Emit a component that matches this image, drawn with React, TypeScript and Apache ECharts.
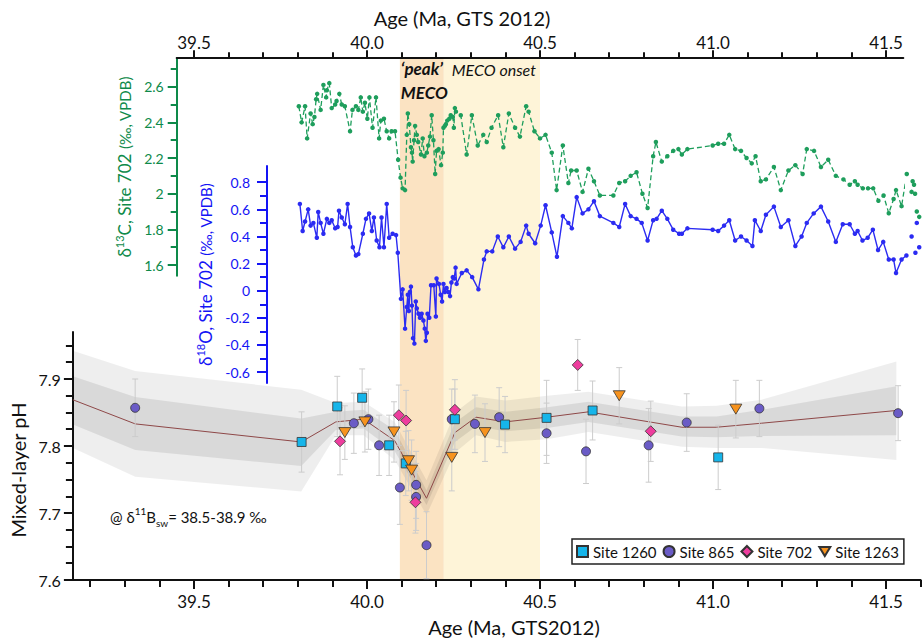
import React, { useEffect, useRef } from "react";
import * as echarts from "echarts";

const FONT = "Lato, 'Noto Sans', 'DejaVu Sans', sans-serif";

// ---------- δ13C, Site 702 ----------
const d13cAge = [39.803,39.811,39.821,39.827,39.837,39.843,39.848,39.853,39.856,39.866,39.874,39.882,39.884,39.891,39.898,39.908,39.912,39.92,39.927,39.936,39.951,39.958,39.968,39.975,39.982,39.988,39.994,40.001,40.007,40.016,40.026,40.035,40.04,40.049,40.057,40.064,40.071,40.081,40.09,40.097,40.103,40.11,40.115,40.118,40.122,40.127,40.13,40.132,40.136,40.139,40.144,40.148,40.156,40.161,40.166,40.173,40.177,40.182,40.187,40.192,40.197,40.201,40.207,40.214,40.219,40.221,40.225,40.228,40.232,40.238,40.242,40.248,40.251,40.254,40.257,40.271,40.288,40.303,40.32,40.336,40.346,40.36,40.379,40.394,40.41,40.428,40.442,40.46,40.467,40.484,40.5,40.516,40.534,40.548,40.566,40.582,40.59,40.606,40.623,40.64,40.656,40.673,40.712,40.729,40.746,40.762,40.779,40.796,40.811,40.827,40.835,40.852,40.868,40.885,40.9,40.91,40.926,40.999,41.015,41.032,41.047,41.064,41.081,41.097,41.112,41.123,41.138,41.153,41.176,41.196,41.218,41.238,41.259,41.271,41.292,41.312,41.333,41.355,41.377,41.395,41.41,41.418,41.433,41.448,41.463,41.478,41.493,41.508,41.522,41.529,41.545,41.56,41.574,41.577,41.581,41.584,41.589,41.596];
const d13cVal = [2.49,2.40,2.49,2.31,2.45,2.39,2.43,2.53,2.56,2.47,2.61,2.54,2.58,2.62,2.48,2.50,2.52,2.56,2.50,2.49,2.35,2.47,2.49,2.47,2.54,2.46,2.51,2.42,2.54,2.37,2.54,2.31,2.41,2.42,2.35,2.31,2.35,2.35,2.19,2.09,2.03,2.02,2.33,2.45,2.39,2.26,2.23,2.18,2.30,2.38,2.33,2.29,2.22,2.31,2.21,2.23,2.27,2.32,2.44,2.30,2.11,2.24,2.25,2.16,2.23,2.37,2.38,2.39,2.41,2.42,2.44,2.43,2.37,2.48,2.46,2.44,2.22,2.44,2.27,2.33,2.29,2.37,2.44,2.26,2.45,2.37,2.32,2.49,2.46,2.35,2.31,2.33,2.23,2.02,2.27,2.06,2.13,2.13,2.01,2.14,2.07,1.99,1.99,2.06,2.07,2.10,2.12,2.00,1.92,2.21,2.29,2.18,2.21,2.24,2.25,2.22,2.25,2.27,2.28,2.28,2.33,2.25,2.24,2.20,2.17,2.21,2.07,2.08,2.15,2.02,2.13,2.16,2.11,2.25,2.24,2.15,2.19,2.10,2.08,2.05,2.07,2.05,2.03,2.03,2.03,1.96,1.99,1.89,1.97,2.02,1.93,2.11,2.01,2.07,2.05,2.00,1.90,1.87];

// ---------- δ18O, Site 702 ----------
const d18oAge = [39.806,39.814,39.821,39.83,39.837,39.845,39.855,39.859,39.866,39.874,39.884,39.891,39.898,39.908,39.915,39.919,39.927,39.936,39.944,39.951,39.959,39.968,39.975,39.988,39.997,40.006,40.014,40.02,40.028,40.036,40.042,40.049,40.057,40.064,40.074,40.084,40.089,40.098,40.103,40.11,40.115,40.118,40.121,40.124,40.127,40.13,40.133,40.137,40.141,40.144,40.149,40.153,40.158,40.163,40.167,40.17,40.173,40.175,40.18,40.185,40.193,40.199,40.201,40.208,40.213,40.217,40.221,40.225,40.23,40.235,40.24,40.244,40.248,40.252,40.256,40.259,40.274,40.288,40.304,40.322,40.338,40.346,40.362,40.378,40.394,40.41,40.428,40.444,40.46,40.467,40.486,40.502,40.516,40.534,40.549,40.566,40.582,40.592,40.606,40.623,40.64,40.656,40.673,40.712,40.729,40.746,40.762,40.779,40.794,40.811,40.827,40.837,40.852,40.868,40.885,40.902,40.91,40.926,40.999,41.015,41.032,41.047,41.064,41.081,41.097,41.114,41.121,41.138,41.153,41.176,41.196,41.218,41.238,41.256,41.271,41.291,41.312,41.333,41.355,41.375,41.395,41.41,41.418,41.432,41.447,41.462,41.477,41.492,41.508,41.522,41.529,41.545,41.559,41.574,41.585,41.589,41.596];
const d18oVal = [0.64,0.44,0.51,0.60,0.48,0.50,0.39,0.58,0.50,0.42,0.53,0.50,0.52,0.46,0.47,0.59,0.54,0.49,0.64,0.47,0.32,0.26,0.27,0.42,0.53,0.57,0.44,0.54,0.37,0.32,0.54,0.32,0.64,0.39,0.42,0.41,0.28,-0.06,0.01,-0.28,-0.12,-0.03,-0.15,-0.01,0.03,-0.11,-0.35,-0.39,-0.08,-0.13,-0.17,-0.20,-0.17,-0.22,-0.28,-0.37,-0.31,-0.17,-0.20,0.04,0.04,-0.19,0.09,0.05,-0.03,-0.08,0.05,-0.01,0.02,-0.01,-0.04,0.06,0.10,0.09,0.17,0.05,0.13,0.15,0.10,0.01,0.23,0.29,0.29,0.40,0.32,0.40,0.31,0.36,0.48,0.42,0.35,0.48,0.63,0.43,0.25,0.55,0.50,0.46,0.69,0.57,0.60,0.66,0.55,0.50,0.47,0.64,0.55,0.53,0.50,0.37,0.52,0.53,0.59,0.53,0.45,0.42,0.42,0.46,0.45,0.44,0.48,0.52,0.37,0.40,0.37,0.33,0.52,0.44,0.56,0.62,0.47,0.52,0.33,0.40,0.50,0.57,0.62,0.51,0.36,0.49,0.49,0.42,0.44,0.37,0.39,0.45,0.30,0.36,0.23,0.23,0.13,0.23,0.26,0.40,0.28,0.50,0.32];

// ---------- Mixed-layer pH by site ----------
const site1260Age = [39.811,39.914,39.986,40.064,40.112,40.254,40.399,40.519,40.652,41.015];
const site1260PH = [7.806,7.859,7.872,7.801,7.774,7.840,7.832,7.842,7.853,7.783];
const site1260Err = [0.045,0.045,0.043,0.045,0.048,0.045,0.042,0.056,0.044,0.048];

const site865Age = [39.33,39.962,40.004,40.035,40.095,40.142,40.142,40.172,40.245,40.312,40.382,40.519,40.633,40.814,40.924,41.134,41.535];
const site865PH = [7.857,7.834,7.840,7.801,7.738,7.742,7.724,7.652,7.840,7.833,7.843,7.819,7.792,7.801,7.835,7.856,7.849];
const site865Err = [0.043,0.045,0.045,0.045,0.055,0.05,0.05,0.05,0.045,0.043,0.044,0.045,0.048,0.055,0.043,0.042,0.041];

const site702Age = [39.922,40.092,40.113,40.14,40.254,40.609,40.82];
const site702PH = [7.807,7.846,7.838,7.716,7.854,7.921,7.822];
const site702Err = [0.05,0.045,0.045,0.046,0.045,0.038,0.045];

const site1263Age = [39.936,39.994,40.078,40.12,40.129,40.245,40.341,40.729,41.066];
const site1263PH = [7.820,7.836,7.821,7.778,7.764,7.783,7.820,7.875,7.855];
const site1263Err = [0.04,0.045,0.045,0.045,0.045,0.05,0.043,0.042,0.043];

// ---------- pH reconstruction envelope ----------
const bandAge = [39.15,39.33,39.81,39.91,39.99,40.08,40.172,40.254,40.315,40.40,40.52,40.64,40.91,41.01,41.14,41.53];
const bandMedian = [7.869,7.833,7.806,7.836,7.840,7.808,7.722,7.820,7.843,7.836,7.843,7.851,7.828,7.828,7.834,7.853];
const bandInnerHi = [7.904,7.873,7.841,7.851,7.854,7.824,7.734,7.835,7.858,7.851,7.858,7.866,7.844,7.844,7.854,7.889];
const bandInnerLo = [7.832,7.794,7.770,7.824,7.826,7.792,7.712,7.806,7.829,7.822,7.827,7.836,7.814,7.813,7.815,7.816];
const bandOuterHi = [7.942,7.912,7.884,7.864,7.866,7.836,7.749,7.850,7.874,7.868,7.875,7.881,7.859,7.860,7.869,7.926];
const bandOuterLo = [7.797,7.754,7.732,7.816,7.816,7.779,7.697,7.790,7.816,7.806,7.810,7.821,7.799,7.797,7.797,7.779];

// ---------- intervals ----------
const peakMeco = [40.095, 40.222];
const mecoOnset = [40.222, 40.5];

// ---------- ticks ----------
const ageMajor = [39.5, 40, 40.5, 41, 41.5];
const ageMinorTop = [39.6,39.7,39.8,39.9,40.1,40.2,40.3,40.4,40.6,40.7,40.8,40.9,41.1,41.2,41.3,41.4];
const ageMinorBottom = [39.2,39.3,39.4,39.6,39.7,39.8,39.9,40.1,40.2,40.3,40.4,40.6,40.7,40.8,40.9,41.1,41.2,41.3,41.4,41.6];
const d13cMajor = [1.6, 1.8, 2, 2.2, 2.4, 2.6];
const d13cMinor = [1.7, 1.9, 2.1, 2.3, 2.5, 2.7];
const d18oMajor = [-0.6, -0.4, -0.2, 0, 0.2, 0.4, 0.6, 0.8];
const d18oMinor = [-0.5, -0.3, -0.1, 0.1, 0.3, 0.5, 0.7];
const phMajor = [7.6, 7.7, 7.8, 7.9];
const phMinor = [7.625,7.65,7.675,7.725,7.75,7.775,7.825,7.85,7.875,7.925,7.95];

// ---------- layout ----------
const W = 922, H = 640;
const X40 = 367, PXMA = 346;
const ax = (a: number) => X40 + (a - 40) * PXMA;
const ageAt = (px: number) => 40 + (px - X40) / PXMA;
const BOT_MIN = 39.15, BOT_MAX = 41.6, TOP_MIN = 39.45, TOP_MAX = 41.55;
const G_MIN = 1.54, G_MAX = 2.76;
const gy = (v: number) => 265 - (v - 1.6) * 178.3;
const B_MIN = -0.68, B_MAX = 0.92, B_LEFT = 267;
const by = (v: number) => 290.7 - v * 135.6;
const P_MIN = 7.6, P_MAX = 7.97;
const py = (v: number) => 580 - (v - 7.6) * 670;

const GREEN_AX = "#0E8A4A";
const GREEN = "#1E9E5C";
const BLUE_AX = "#1414F5";
const BLUE = "#2B2BF2";
const BLACK = "#111";

const fmt1 = (v: number) => v.toFixed(1);
const fmtShort = (v: number) => String(Math.round(v * 10) / 10);

const TRI = "path://M0,0L12,0L6,10Z";

const rectOf = (left: number, right: number, top: number, bottom: number) => ({
  left, top, width: right - left, height: bottom - top, show: false, containLabel: false, outerBoundsMode: "none",
});

function buildOption() {
  const gBg = rectOf(ax(BOT_MIN), ax(BOT_MAX), 59, 579);
  const gG = rectOf(ax(TOP_MIN), ax(TOP_MAX), gy(G_MAX), gy(G_MIN));
  const gB = rectOf(B_LEFT, ax(TOP_MAX), by(B_MAX), by(B_MIN));
  const gP = rectOf(ax(BOT_MIN), ax(BOT_MAX), py(P_MAX), py(P_MIN));
  const grid = [gBg, gG, gG, gB, gB, gP, gP];

  const hiddenX = (gi: number, min: number, max: number) => ({ gridIndex: gi, type: "value", min, max, show: false });
  const majorAxis = (o: any) => ({
    type: "value",
    min: o.min, max: o.max, gridIndex: o.grid, position: o.position,
    axisLine: { show: true, onZero: false, lineStyle: { color: o.color, width: 2 } },
    axisTick: { show: true, inside: false, customValues: o.ticks, length: o.tickLen, lineStyle: { color: o.color, width: 2 } },
    axisLabel: { show: true, customValues: o.ticks, formatter: o.fmt, fontSize: o.fontSize, color: o.color, margin: o.margin, fontFamily: FONT },
    splitLine: { show: false },
    ...(o.extra || {}),
  });
  const minorAxis = (o: any) => ({
    type: "value",
    min: o.min, max: o.max, gridIndex: o.grid, position: o.position,
    axisLine: { show: false, onZero: false },
    axisTick: { show: true, inside: false, customValues: o.ticks, length: o.tickLen, lineStyle: { color: o.color, width: 2 } },
    axisLabel: { show: false },
    splitLine: { show: false },
  });

  const xAxis = [
    hiddenX(0, BOT_MIN, BOT_MAX),
    majorAxis({ grid: 1, position: "top", min: TOP_MIN, max: TOP_MAX, color: BLACK, ticks: ageMajor, tickLen: 8, fmt: fmt1, fontSize: 17, margin: 7 }),
    minorAxis({ grid: 2, position: "top", min: TOP_MIN, max: TOP_MAX, color: BLACK, ticks: ageMinorTop, tickLen: 6 }),
    hiddenX(3, ageAt(B_LEFT), TOP_MAX),
    hiddenX(4, ageAt(B_LEFT), TOP_MAX),
    majorAxis({ grid: 5, position: "bottom", min: BOT_MIN, max: BOT_MAX, color: BLACK, ticks: ageMajor, tickLen: 9, fmt: fmt1, fontSize: 17, margin: 13 }),
    minorAxis({ grid: 6, position: "bottom", min: BOT_MIN, max: BOT_MAX, color: BLACK, ticks: ageMinorBottom, tickLen: 7 }),
  ];

  const richSup = (color: string, main: number, small: number, lh: number) => ({
    a: { fontSize: main, color, fontFamily: FONT, lineHeight: lh, verticalAlign: "middle" },
    s: { fontSize: small, color, fontFamily: FONT, verticalAlign: "top", lineHeight: small + 1 },
    b: { fontSize: main - 2, color, fontFamily: FONT, lineHeight: lh, verticalAlign: "middle" },
  });

  const yAxis = [
    { gridIndex: 0, type: "value", min: 0, max: 1, show: false },
    majorAxis({
      grid: 1, position: "left", min: G_MIN, max: G_MAX, color: GREEN_AX, ticks: d13cMajor, tickLen: 9, fmt: fmtShort, fontSize: 14, margin: 13,
      extra: {
        name: "{a|δ}{s|13}{a|C, Site 702 }{b|(‰, VPDB)}",
        nameLocation: "middle", nameGap: 31, nameRotate: 90,
        nameTextStyle: { color: GREEN_AX, rich: richSup(GREEN_AX, 17, 11, 22) },
      },
    }),
    minorAxis({ grid: 2, position: "left", min: G_MIN, max: G_MAX, color: GREEN_AX, ticks: d13cMinor, tickLen: 6 }),
    majorAxis({
      grid: 3, position: "left", min: B_MIN, max: B_MAX, color: BLUE_AX, ticks: d18oMajor, tickLen: 10, fmt: fmtShort, fontSize: 14, margin: 17,
      extra: {
        name: "{a|δ}{s|18}{a|O, Site 702 }{b|(‰, VPDB)}",
        nameLocation: "middle", nameGap: 35, nameRotate: 90,
        nameTextStyle: { color: BLUE_AX, rich: richSup(BLUE_AX, 17, 11, 22) },
      },
    }),
    minorAxis({ grid: 4, position: "left", min: B_MIN, max: B_MAX, color: BLUE_AX, ticks: d18oMinor, tickLen: 7 }),
    majorAxis({
      grid: 5, position: "left", min: P_MIN, max: P_MAX, color: BLACK, ticks: phMajor, tickLen: 9, fmt: fmt1, fontSize: 16, margin: 12,
      extra: {
        name: "Mixed-layer pH",
        nameLocation: "middle", nameGap: 32, nameRotate: 90,
        nameTextStyle: { color: BLACK, fontSize: 20, fontFamily: FONT, padding: [0, 28, 0, 0] },
      },
    }),
    minorAxis({ grid: 6, position: "left", min: P_MIN, max: P_MAX, color: BLACK, ticks: phMinor, tickLen: 7 }),
  ];

  const bandSeries = (lo: number[], hi: number[], fill: string, z: number) => ({
    type: "custom",
    xAxisIndex: 5, yAxisIndex: 5, z, silent: true, clip: true,
    data: bandAge.map((a, i) => [a, lo[i], hi[i]]),
    renderItem: (params: any, api: any) => {
      if (params.dataIndex !== 0) return null;
      const upper = bandAge.map((a, i) => api.coord([a, hi[i]]));
      const lower = bandAge.map((a, i) => api.coord([a, lo[i]])).reverse();
      return { type: "polygon", shape: { points: upper.concat(lower) }, style: { fill } };
    },
  });

  const sites = [
    { name: "Site 865", age: site865Age, ph: site865PH, err: site865Err, symbol: "circle", size: 9, color: "#6A5BC6" },
    { name: "Site 1260", age: site1260Age, ph: site1260PH, err: site1260Err, symbol: "rect", size: 9, color: "#16B5EA" },
    { name: "Site 702", age: site702Age, ph: site702PH, err: site702Err, symbol: "diamond", size: 11, color: "#EE3D9E" },
    { name: "Site 1263", age: site1263Age, ph: site1263PH, err: site1263Err, symbol: TRI, size: [12, 10], color: "#F7931E" },
  ];

  const errData: number[][] = [];
  sites.forEach((s) => s.age.forEach((a, i) => errData.push([a, s.ph[i], s.err[i]])));

  const errSeries = {
    type: "custom",
    xAxisIndex: 5, yAxisIndex: 5, z: 4, silent: true, clip: true,
    data: errData,
    renderItem: (params: any, api: any) => {
      const x = api.value(0), y = api.value(1), e = api.value(2);
      const t = api.coord([x, y + e]);
      const b = api.coord([x, y - e]);
      const c = 3;
      const st = { stroke: "#CCCCCC", lineWidth: 1, fill: "none" };
      return {
        type: "group",
        children: [
          { type: "line", shape: { x1: t[0], y1: t[1], x2: b[0], y2: b[1] }, style: st },
          { type: "line", shape: { x1: t[0] - c, y1: t[1], x2: t[0] + c, y2: t[1] }, style: st },
          { type: "line", shape: { x1: b[0] - c, y1: b[1], x2: b[0] + c, y2: b[1] }, style: st },
        ],
      };
    },
  };

  const scatterSeries = sites.map((s, k) => ({
    type: "scatter",
    name: s.name,
    xAxisIndex: 5, yAxisIndex: 5,
    z: 6 + k,
    symbol: s.symbol,
    symbolSize: s.size,
    data: s.age.map((a, i) => [a, s.ph[i]]),
    itemStyle: { color: s.color, borderColor: "#333", borderWidth: 0.8, opacity: 1 },
  }));

  const series: any[] = [
    {
      type: "line", xAxisIndex: 0, yAxisIndex: 0, z: 0, silent: true,
      data: [[39.2, -5], [39.3, -5]], showSymbol: false, lineStyle: { width: 0 },
      markArea: {
        silent: true,
        data: [
          [
            {
              xAxis: peakMeco[0], itemStyle: { color: "#FBE3C2" },
              label: {
                show: true, position: "insideTopLeft", distance: 0, offset: [1, -3],
                formatter: "‘peak’\nMECO", fontSize: 17, fontWeight: "bold", fontStyle: "italic",
                color: BLACK, lineHeight: 24, fontFamily: FONT,
              },
            },
            { xAxis: peakMeco[1] },
          ],
          [
            {
              xAxis: mecoOnset[0], itemStyle: { color: "#FEF4D8" },
              label: {
                show: true, position: "insideTopLeft", distance: 0, offset: [8, 0],
                formatter: "MECO onset", fontSize: 16, fontStyle: "italic",
                color: BLACK, lineHeight: 20, fontFamily: FONT,
              },
            },
            { xAxis: mecoOnset[1] },
          ],
        ],
      },
    },
    bandSeries(bandOuterLo, bandOuterHi, "rgba(0,0,0,0.065)", 1),
    bandSeries(bandInnerLo, bandInnerHi, "rgba(0,0,0,0.085)", 2),
    {
      type: "line", xAxisIndex: 5, yAxisIndex: 5, z: 3, silent: true,
      data: bandAge.map((a, i) => [a, bandMedian[i]]),
      showSymbol: false, symbol: "none",
      lineStyle: { color: "#8E4848", width: 1 },
    },
    errSeries,
    ...scatterSeries,
    {
      type: "line", name: "δ13C", xAxisIndex: 1, yAxisIndex: 1, z: 10, clip: false, silent: true,
      data: d13cAge.map((a, i) => [a, d13cVal[i]]),
      symbol: "circle", symbolSize: 4.5, showSymbol: true,
      itemStyle: { color: GREEN },
      lineStyle: { color: GREEN, width: 1.3, type: [5, 3] },
    },
    {
      type: "line", name: "δ18O", xAxisIndex: 3, yAxisIndex: 3, z: 10, clip: false, silent: true,
      data: d18oAge.map((a, i) => [a, d18oVal[i]]),
      symbol: "circle", symbolSize: 4.5, showSymbol: true,
      itemStyle: { color: BLUE },
      lineStyle: { color: BLUE, width: 1.4 },
    },
  ];

  return {
    animation: false,
    backgroundColor: "#fff",
    textStyle: { fontFamily: FONT },
    grid,
    xAxis,
    yAxis,
    legend: {
      left: 572, top: 539, width: 345, orient: "horizontal",
      data: ["Site 1260", "Site 865", "Site 702", "Site 1263"],
      itemWidth: 11, itemHeight: 11, itemGap: 6,
      padding: [5, 5, 5, 4],
      borderColor: "#222", borderWidth: 1.5, borderRadius: 0,
      backgroundColor: "#fff",
      textStyle: { fontSize: 15, color: BLACK, fontFamily: FONT },
      selectedMode: false,
      z: 20,
    },
    graphic: [
      {
        type: "text", x: 462, y: 18, z: 20,
        style: { text: "Age (Ma, GTS 2012)", fontSize: 20, fontFamily: FONT, fill: BLACK, align: "center", verticalAlign: "middle" },
      },
      {
        type: "text", x: 514, y: 627, z: 20,
        style: { text: "Age (Ma, GTS2012)", fontSize: 20, fontFamily: FONT, fill: BLACK, align: "center", verticalAlign: "middle" },
      },
      {
        type: "text", x: 110, y: 517, z: 20,
        style: {
          text: "{n|@ δ}{s|11}{n|B}{d|sw}{n|= 38.5-38.9 ‰}",
          align: "left", verticalAlign: "middle",
          rich: {
            n: { fontSize: 15, fontFamily: FONT, fill: BLACK, color: BLACK, lineHeight: 22, verticalAlign: "middle" },
            s: { fontSize: 10, fontFamily: FONT, fill: BLACK, color: BLACK, lineHeight: 11, verticalAlign: "top" },
            d: { fontSize: 10, fontFamily: FONT, fill: BLACK, color: BLACK, lineHeight: 11, verticalAlign: "bottom" },
          },
        },
      },
    ],
    series,
  };
}

export default function App() {
  const ref = useRef<HTMLDivElement>(null);
  useEffect(() => {
    if (!ref.current) return;
    const chart = echarts.init(ref.current, null, { renderer: "svg", width: W, height: H });
    chart.setOption(buildOption() as any);
    return () => chart.dispose();
  }, []);
  return (
    <div
      ref={ref}
      style={{ position: "absolute", left: 0, top: 0, width: W, height: H, background: "#fff" }}
    />
  );
}
